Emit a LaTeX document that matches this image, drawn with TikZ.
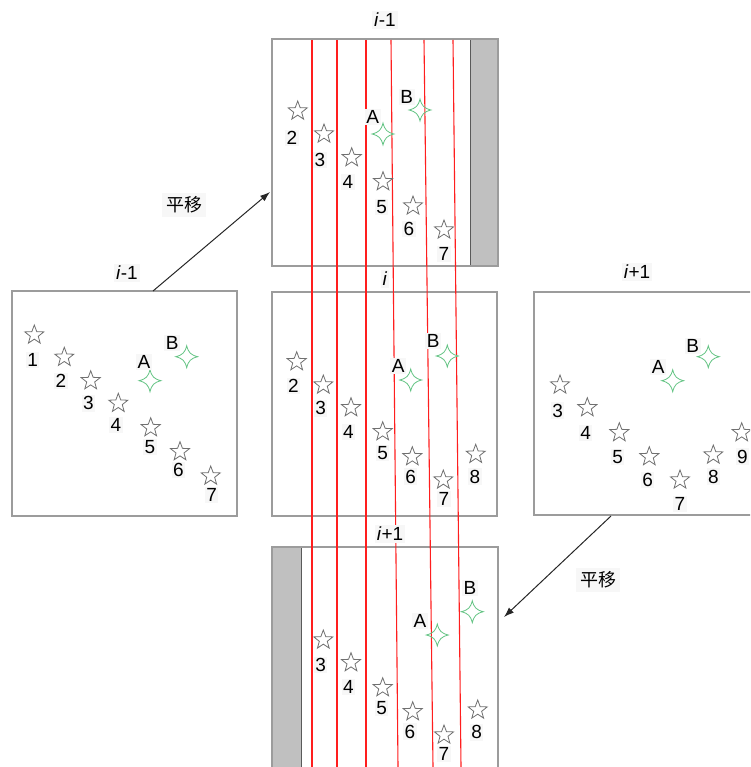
\documentclass[tikz,border=0pt]{standalone}
\usepackage{fontspec}
\setmainfont{Liberation Sans}
\newfontfamily\cjk{Noto Sans CJK SC}
\usetikzlibrary{shapes.geometric,arrows.meta}
\definecolor{frame}{HTML}{9C9C9C}
\definecolor{barfill}{HTML}{C0C0C0}
\definecolor{bardark}{HTML}{5A5A5A}
\definecolor{stargray}{HTML}{707070}
\definecolor{sparkgreen}{HTML}{64C484}
\definecolor{guide}{HTML}{FF1E1E}
\definecolor{tagbg}{HTML}{F7F7F7}
\tikzset{
  panel/.style={draw=frame, line width=1.4pt, fill=white},
  sidebar/.style={fill=barfill, draw=none},
  cardstar/.style={star, star points=5, star point ratio=2.4, minimum size=20pt,
    inner sep=0pt, draw=stargray, line width=0.8pt},
  num/.style={font=\fontsize{19}{19}\selectfont, inner sep=1.5pt, fill=tagbg},
  title/.style={font=\fontsize{19}{19}\selectfont, inner sep=2pt, fill=tagbg},
  shiftlbl/.style={font=\cjk\fontsize{18}{18}\selectfont, inner sep=4pt, fill=tagbg},
  guideline/.style={draw=guide, line width=1.1pt},
  shiftarrow/.style={draw=black!85, line width=1pt, -{Latex[length=10pt,width=7pt]}},
  spark/.pic={
    \draw[sparkgreen, line width=0.8pt]
      (11,0) .. controls (4,1.8) and (1.8,4) .. (0,11)
      .. controls (-1.8,4) and (-4,1.8) .. (-11,0)
      .. controls (-4,-1.8) and (-1.8,-4) .. (0,-11)
      .. controls (1.8,-4) and (4,-1.8) .. cycle;
  }
}
\begin{document}
\begin{tikzpicture}[x=1pt,y=-1pt]
\useasboundingbox (0,0) rectangle (750,767);
\clip (0,0) rectangle (750,767);

% ---- panels ----
\draw[panel] (272,39) rectangle (498,266);
\fill[sidebar] (470,39) rectangle (498,266);
\draw[bardark, line width=1pt] (470,39) -- (470,266);
\draw[frame, line width=1.4pt] (272,39) rectangle (498,266);

\draw[panel] (12,291) rectangle (237,516);
\draw[panel] (272,292) rectangle (497,516);
\draw[panel] (534,292) rectangle (770,515);

\draw[panel] (272,547) rectangle (498,790);
\fill[sidebar] (272,547) rectangle (301,790);
\draw[bardark, line width=1pt] (301,547) -- (301,790);
\draw[frame, line width=1.4pt] (272,547) rectangle (498,790);

% ---- guide lines ----
\draw[guideline] (312,40) -- (312,767);
\draw[guideline] (337,40) -- (337,767);
\draw[guideline] (366,40) -- (366,767);
\draw[guideline] (391,40) -- (398,767);
\draw[guideline] (424,40) -- (433,767);
\draw[guideline] (453,40) -- (461,767);

% ---- titles ----
\node[title] (ttop) at (385,20) {\textit{i}-1};
\node[title] (tleft) at (127,273) {\textit{i}-1};
\node[title] (tmid) at (385,279) {\textit{i}};
\node[title] (tright) at (637,272) {\textit{i}+1};
\node[title] (tbot) at (390,534) {\textit{i}+1};

% ---- top panel ----
\foreach \n/\x/\y/\lx/\ly in {2/297.7/111/292/138, 3/324/134/320/160,
    4/351.7/157.7/348/182, 5/383/181.7/381.7/206.7, 6/413/206/409/229,
    7/444/230/444/254}{
  \node[cardstar] (t\n) at (\x,\y) {};
  \node[num] (tl\n) at (\lx,\ly) {\n};
}
\pic (tA) at (383,134) {spark};
\pic (tB) at (420,110) {spark};
\node[num] (tlA) at (372.7,116.7) {A};
\node[num] (tlB) at (406.7,96.7) {B};

% ---- left panel ----
\foreach \n/\x/\y/\lx/\ly in {1/34.3/335/32.7/360, 2/64.3/357.3/61/380.7,
    3/90.7/380.7/88.3/403.3, 4/118.3/403.3/116/425, 5/150.7/427.7/150/447.3,
    6/180/451.7/178.3/470, 7/210.7/476/211.7/495}{
  \node[cardstar] (l\n) at (\x,\y) {};
  \node[num] (ll\n) at (\lx,\ly) {\n};
}
\pic (lA) at (150,380.7) {spark};
\pic (lB) at (186.7,356.7) {spark};
\node[num] (llA) at (144,361.7) {A};
\node[num] (llB) at (172.3,342.7) {B};

% ---- middle panel ----
\foreach \n/\x/\y/\lx/\ly in {2/296.7/361.7/293.3/386, 3/323.3/385/320.7/408.3,
    4/351/407.7/348.3/431.7, 5/382.7/431.7/382.7/453.3, 6/412.3/456.7/410.7/476.7,
    7/443.3/480/444/499.3, 8/475.7/454.3/475/476.7}{
  \node[cardstar] (m\n) at (\x,\y) {};
  \node[num] (ml\n) at (\lx,\ly) {\n};
}
\pic (mA) at (410.7,380) {spark};
\pic (mB) at (447.3,356) {spark};
\node[num] (mlA) at (398.3,366) {A};
\node[num] (mlB) at (433.3,341) {B};

% ---- right panel ----
\foreach \n/\x/\y/\lx/\ly in {3/560/385/557.7/410.7, 4/587.3/407.7/585.7/432.7,
    5/619.3/432.7/617.7/456.7, 6/649.3/456.7/647.7/480, 7/680/480/680/504.3,
    8/713.3/455/713.3/476.7, 9/741.7/432.7/742.3/456.7}{
  \node[cardstar] (r\n) at (\x,\y) {};
  \node[num] (rl\n) at (\lx,\ly) {\n};
}
\pic (rA) at (672.7,380.7) {spark};
\pic (rB) at (708.3,356.7) {spark};
\node[num] (rlA) at (658.3,367.3) {A};
\node[num] (rlB) at (692.7,346) {B};

% ---- bottom panel ----
\foreach \n/\x/\y/\lx/\ly in {3/323.3/640/320.7/665, 4/351/662.7/348.3/686.7,
    5/382.7/687.7/381.7/708.3, 6/412.7/711.7/410/731.7, 7/444/735/444/754.3,
    8/477.7/710/476.7/732.3}{
  \node[cardstar] (b\n) at (\x,\y) {};
  \node[num] (bl\n) at (\lx,\ly) {\n};
}
\pic (bA) at (437.3,635) {spark};
\pic (bB) at (472.3,611.7) {spark};
\node[num] (blA) at (420,621) {A};
\node[num] (blB) at (470,587.7) {B};

% ---- translation arrows ----
\coordinate (upfrom) at (153,291);
\coordinate (upto) at (270,192);
\coordinate (downfrom) at (611,516);
\coordinate (downto) at (504,617);
\draw[shiftarrow] (upfrom) -- (upto);
\draw[shiftarrow] (downfrom) -- (downto);
\node[shiftlbl] (shiftup) at (184,205) {平移};
\node[shiftlbl] (shiftdown) at (598,580) {平移};
\end{tikzpicture}
\end{document}
